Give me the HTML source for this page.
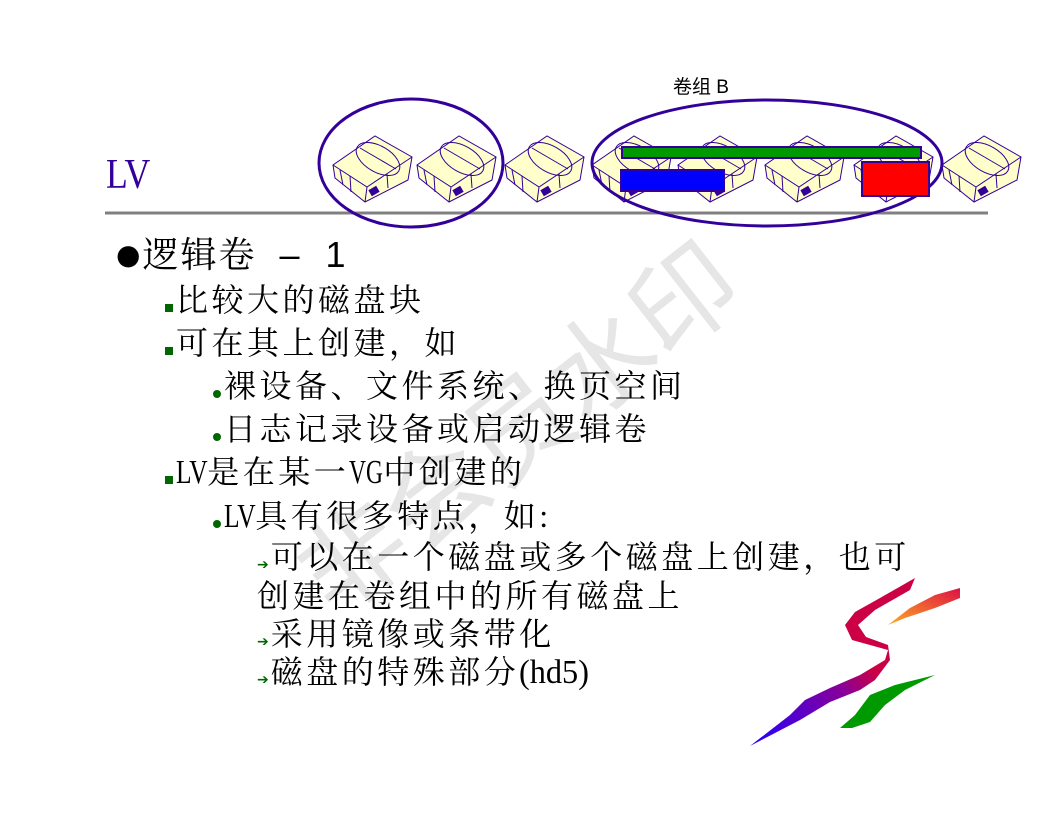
<!DOCTYPE html>
<html><head><meta charset="utf-8"><style>
html,body{margin:0;padding:0;background:#fff}
body{width:1056px;height:816px;position:relative;overflow:hidden;font-family:"Liberation Serif","Noto Serif CJK SC",serif}
.t{position:absolute;white-space:nowrap;line-height:1;color:#000}
.l2{font-size:32px;letter-spacing:3.5px}
.la{letter-spacing:0;font-size:34px;display:inline-block;transform-origin:left}
.sq{display:inline-block;width:8px;height:8px;background:#006600;margin-right:3px;vertical-align:-1px}
.dot{display:inline-block;width:8px;height:8px;border-radius:50%;background:#006600;margin-right:3px;vertical-align:-1px}
.ar{display:inline-block;color:#006600;font-size:14px;font-weight:bold;margin-right:2px;letter-spacing:0;vertical-align:-1px;font-family:"DejaVu Sans",sans-serif}
</style></head><body>
<svg width="1056" height="816" style="position:absolute;left:0;top:0">
<defs>
<g id="disk" stroke="#330099" stroke-width="1" fill="#ffffcc">
<polygon points="5,48 3,35 45,6 82,27 78,50 35,72"/>
<polyline points="3,35 37,57 82,27" fill="none"/>
<line x1="37" y1="57" x2="35" y2="72"/>
<ellipse cx="48" cy="29" rx="24" ry="13" transform="rotate(30 48 29)" fill="none"/>
<line x1="30" y1="18" x2="66" y2="39"/>
<line x1="10" y1="40" x2="13" y2="55"/><line x1="20" y1="46" x2="21" y2="62"/>
<line x1="57" y1="44" x2="58" y2="58"/>
<rect x="40" y="58" width="8" height="6" fill="#330099" transform="rotate(-30 44 61)"/>
</g>
</defs>
<text x="520" y="465" font-size="105" fill="#e6e6e6" text-anchor="middle" transform="rotate(-38 520 430)" font-family="Noto Sans CJK SC, sans-serif">非会员水印</text>
<use href="#disk" x="330" y="130"/>
<use href="#disk" x="414" y="130"/>
<use href="#disk" x="502" y="130"/>
<use href="#disk" x="589" y="130"/>
<use href="#disk" x="675" y="130"/>
<use href="#disk" x="762" y="130"/>
<use href="#disk" x="851" y="130"/>
<use href="#disk" x="939" y="130"/>
<line x1="105" y1="213" x2="988" y2="213" stroke="#808080" stroke-width="3"/>
<ellipse cx="411" cy="163" rx="92" ry="64" fill="none" stroke="#330099" stroke-width="3"/>
<ellipse cx="767" cy="163" rx="175" ry="63" fill="none" stroke="#330099" stroke-width="3"/>
<rect x="622" y="147" width="299" height="11" fill="#009900" stroke="#330099" stroke-width="2"/>
<rect x="621" y="170" width="103" height="21" fill="#0000ff" stroke="#330099" stroke-width="2"/>
<rect x="862" y="162" width="67" height="34" fill="#ff0000" stroke="#330099" stroke-width="2"/>
<defs>
<linearGradient id="g1" x1="0" y1="1" x2="1" y2="0"><stop offset="0" stop-color="#2200ff"/><stop offset="0.45" stop-color="#880099"/><stop offset="0.6" stop-color="#cc0044"/></linearGradient>
<linearGradient id="g2" x1="0" y1="1" x2="1" y2="0"><stop offset="0" stop-color="#ffaa22"/><stop offset="1" stop-color="#dd1144"/></linearGradient>
</defs>
<path d="M750,746 L790,715 L805,700 L830,688 L860,675 L885,660 L888,650 L870,645 L852,640 L845,625 L855,612 L880,598 L915,578 L910,590 L875,610 L858,625 L866,637 L888,645 L890,660 L875,680 L860,690 L830,702 L800,720 Z" fill="url(#g1)"/>
<path d="M888,625 L910,608 L935,595 L960,588 L960,598 L935,608 L905,618 Z" fill="url(#g2)"/>
<path d="M840,728 L855,715 L870,695 L895,685 L935,675 L905,690 L885,705 L870,722 L852,728 Z" fill="#009900"/>
</svg>
<div class="t" style="left:106px;top:154px;font-size:42px;color:#330099;font-family:'Liberation Serif',serif;transform:scaleX(0.85);transform-origin:left">LV</div>
<div class="t" style="left:673px;top:78px;font-size:19px;font-family:'Liberation Sans','Noto Sans CJK SC',sans-serif">卷组 B</div>
<div class="t" style="left:116px;top:237px;font-size:36px;letter-spacing:2px"><span style="font-family:'DejaVu Sans',sans-serif;font-size:28px;vertical-align:3px">●</span>逻辑卷 <span style="font-family:'Liberation Sans',sans-serif">&nbsp;–&nbsp; 1</span></div>
<div class="t l2" style="left:165px;top:284px"><span class="sq"></span>比较大的磁盘块</div>
<div class="t l2" style="left:165px;top:327px"><span class="sq"></span>可在其上创建，如</div>
<div class="t l2" style="left:213px;top:370px"><span class="dot"></span>裸设备、文件系统、换页空间</div>
<div class="t l2" style="left:213px;top:413px"><span class="dot"></span>日志记录设备或启动逻辑卷</div>
<div class="t l2" style="left:165px;top:456px"><span class="sq"></span><span class="la" style="transform:scaleX(.75);margin-right:-11px">LV</span>是在某一<span class="la" style="transform:scaleX(.69);margin-right:-15px">VG</span>中创建的</div>
<div class="t l2" style="left:213px;top:500px"><span class="dot"></span><span class="la" style="transform:scaleX(.75);margin-right:-11px">LV</span>具有很多特点，如:</div>
<div class="t l2" style="left:257px;top:541px"><span class="ar">➔</span>可以在一个磁盘或多个磁盘上创建，也可</div>
<div class="t l2" style="left:257px;top:580px">创建在卷组中的所有磁盘上</div>
<div class="t l2" style="left:257px;top:618px"><span class="ar">➔</span>采用镜像或条带化</div>
<div class="t l2" style="left:257px;top:656px"><span class="ar">➔</span>磁盘的特殊部分<span class="la" style="transform:scaleX(.95);margin-right:-4px">(hd5)</span></div>
</body></html>
